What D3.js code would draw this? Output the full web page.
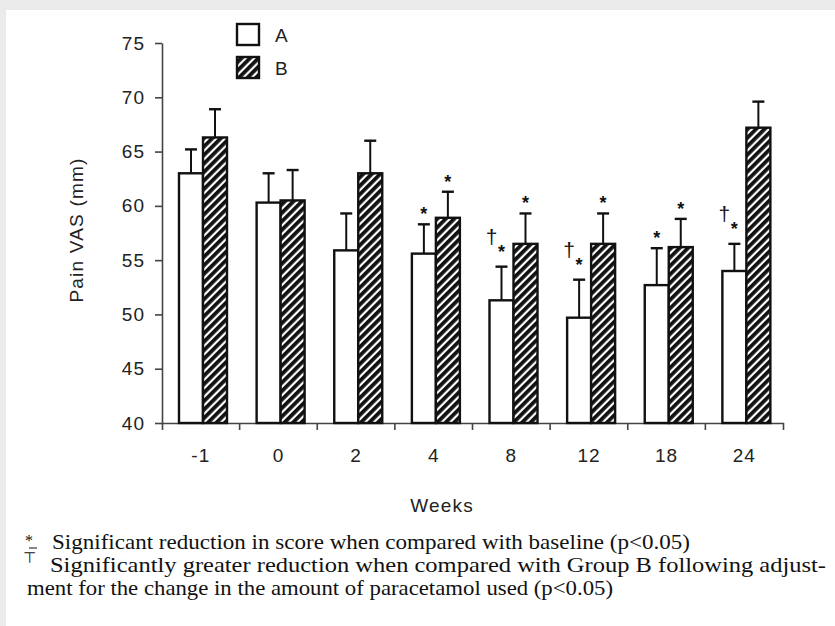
<!DOCTYPE html>
<html>
<head>
<meta charset="utf-8">
<script src="https://cdn.jsdelivr.net/npm/d3@7"></script>
<style>
  body { margin: 0; background: #fff; }
  svg { display: block; }
</style>
</head>
<body>
<script>
// chart values
var weeks = ["-1", "0", "2", "4", "8", "12", "18", "24"];
var groupA = [63.0, 60.3, 55.9, 55.6, 51.3, 49.7, 52.7, 54.0];
var errA = [2.2, 2.7, 3.4, 2.7, 3.1, 3.5, 3.4, 2.5];
var groupB = [66.3, 60.5, 63.0, 58.9, 56.5, 56.5, 56.2, 67.2];
var errB = [2.6, 2.8, 3.0, 2.4, 2.8, 2.8, 2.6, 2.4];
var marksA = ["", "", "", "*", "†*", "†*", "*", "†*"];
var marksB = ["", "", "", "*", "*", "*", "*", ""];
var yTicks = [40, 45, 50, 55, 60, 65, 70, 75];
var notes = [
  "Significant reduction in score when compared with baseline (p<0.05)",
  "Significantly greater reduction when compared with Group B following adjust-",
  "ment for the change in the amount of paracetamol used (p<0.05)"
];

var width = 835,
    height = 626;

var sans = "'Liberation Sans', Arial, sans-serif";
var serif = "'Liberation Serif', 'Times New Roman', serif";

var svg = d3.select("body")
            .append("svg")
            .attr("width", width)
            .attr("height", height);

svg.append("rect").attr("width", width).attr("height", height).attr("fill", "#fff");
svg.append("rect").attr("width", width).attr("height", 10).attr("fill", "#ebebeb");
svg.append("rect").attr("width", 6).attr("height", height).attr("fill", "#ebebeb");

var defs = svg.append("defs");
var pat = defs.append("pattern")
    .attr("id", "hatch")
    .attr("patternUnits", "userSpaceOnUse")
    .attr("width", 6)
    .attr("height", 6)
    .attr("patternTransform", "rotate(45)");
pat.append("rect").attr("width", 6).attr("height", 6).attr("fill", "#fff");
pat.append("rect").attr("width", 3.8).attr("height", 6).attr("fill", "#111");

var xScale = d3.scaleBand()
               .domain(weeks)
               .range([162, 783]);

var inner = d3.scaleBand()
              .domain(["A", "B"])
              .range([17, 65]);

var yScale = d3.scaleLinear()
               .domain([40, 75])
               .range([423, 43]);

// y axis
var yAxis = d3.axisLeft(yScale)
              .tickValues(yTicks)
              .tickSize(7)
              .tickSizeOuter(0)
              .tickPadding(10);

var gy = svg.append("g")
    .attr("transform", "translate(162,0)")
    .call(yAxis);
gy.selectAll("path, line").attr("stroke", "#444").attr("stroke-width", 1.6);
gy.selectAll("text")
  .attr("font-family", sans)
  .attr("font-size", 19)
  .attr("letter-spacing", 1)
  .attr("fill", "#222");

// x axis
var xAxis = d3.axisBottom(xScale)
              .tickSize(0)
              .tickSizeOuter(7)
              .tickPadding(26);

var gx = svg.append("g")
    .attr("transform", "translate(0,423)")
    .call(xAxis);
gx.select(".domain").attr("stroke", "#444").attr("stroke-width", 1.6);
gx.selectAll("text")
  .attr("font-family", sans)
  .attr("font-size", 19)
  .attr("letter-spacing", 1)
  .attr("fill", "#222");

// boundary ticks between week groups
svg.append("g")
   .selectAll("line")
   .data(weeks.slice(1))
   .enter()
   .append("line")
   .attr("x1", function (d) { return xScale(d); })
   .attr("x2", function (d) { return xScale(d); })
   .attr("y1", 423)
   .attr("y2", 430)
   .attr("stroke", "#444")
   .attr("stroke-width", 1.6);

// bars
var rows = weeks.map(function (w, i) {
    return [
        { week: w, key: "A", value: groupA[i], err: errA[i], mark: marksA[i] },
        { week: w, key: "B", value: groupB[i], err: errB[i], mark: marksB[i] }
    ];
});
var flat = d3.merge(rows);

function cx(d) {
    return xScale(d.week) + inner(d.key) + inner.bandwidth() / 2;
}

svg.append("g")
   .selectAll("rect")
   .data(flat)
   .enter()
   .append("rect")
   .attr("x", function (d) { return xScale(d.week) + inner(d.key); })
   .attr("y", function (d) { return yScale(d.value); })
   .attr("width", inner.bandwidth())
   .attr("height", function (d) { return yScale(40) - yScale(d.value); })
   .attr("fill", function (d) { return d.key == "A" ? "#fff" : "url(#hatch)"; })
   .attr("stroke", "#111")
   .attr("stroke-width", 2.4);

// error bars
var eb = svg.append("g")
   .selectAll("g")
   .data(flat)
   .enter()
   .append("g");

eb.append("line")
  .attr("x1", cx)
  .attr("x2", cx)
  .attr("y1", function (d) { return yScale(d.value); })
  .attr("y2", function (d) { return yScale(d.value + d.err); })
  .attr("stroke", "#111")
  .attr("stroke-width", 2);

eb.append("line")
  .attr("x1", function (d) { return cx(d) - 6; })
  .attr("x2", function (d) { return cx(d) + 6; })
  .attr("y1", function (d) { return yScale(d.value + d.err); })
  .attr("y2", function (d) { return yScale(d.value + d.err); })
  .attr("stroke", "#111")
  .attr("stroke-width", 2.4);

// significance marks
var marked = flat.filter(function (d) { return d.mark != ""; });

svg.append("g")
   .selectAll("text")
   .data(marked)
   .enter()
   .append("text")
   .attr("x", cx)
   .attr("y", function (d) {
       return yScale(d.value + d.err) - (d.mark.length > 1 ? 9 : 4);
   })
   .attr("text-anchor", "middle")
   .attr("font-family", sans)
   .attr("font-size", 18)
   .attr("font-weight", "bold")
   .attr("fill", "#111")
   .text("*");

svg.append("g")
   .selectAll("text")
   .data(marked.filter(function (d) { return d.mark.indexOf("†") == 0; }))
   .enter()
   .append("text")
   .attr("x", function (d) { return cx(d) - 10; })
   .attr("y", function (d) { return yScale(d.value + d.err) - 23; })
   .attr("text-anchor", "middle")
   .attr("font-family", sans)
   .attr("font-size", 21)
   .attr("fill", "#111")
   .text("†");

// legend
var legend = svg.append("g");
var legendKeys = ["A", "B"];
legend.selectAll("rect")
      .data(legendKeys)
      .enter()
      .append("rect")
      .attr("x", 237)
      .attr("y", function (d, i) { return 24 + i * 33; })
      .attr("width", 22)
      .attr("height", 21)
      .attr("fill", function (d) { return d == "A" ? "#fff" : "url(#hatch)"; })
      .attr("stroke", "#111")
      .attr("stroke-width", 2.4);
legend.selectAll("text")
      .data(legendKeys)
      .enter()
      .append("text")
      .attr("x", 275)
      .attr("y", function (d, i) { return 42 + i * 33; })
      .attr("font-family", sans)
      .attr("font-size", 19)
      .attr("fill", "#222")
      .text(function (d) { return d; });

// axis titles
svg.append("text")
   .attr("transform", "translate(83,230) rotate(-90)")
   .attr("text-anchor", "middle")
   .attr("font-family", sans)
   .attr("font-size", 19)
   .attr("letter-spacing", 1.2)
   .attr("fill", "#222")
   .text("Pain VAS (mm)");

svg.append("text")
   .attr("x", 442)
   .attr("y", 512)
   .attr("text-anchor", "middle")
   .attr("font-family", sans)
   .attr("font-size", 19)
   .attr("letter-spacing", 1.2)
   .attr("fill", "#222")
   .text("Weeks");

// footnotes
var noteX = [52, 50, 27];
var noteW = [638, 776, 586];
svg.append("g")
   .selectAll("text")
   .data(notes)
   .enter()
   .append("text")
   .attr("x", function (d, i) { return noteX[i]; })
   .attr("y", function (d, i) { return 549 + i * 23; })
   .attr("textLength", function (d, i) { return noteW[i]; })
   .attr("lengthAdjust", "spacingAndGlyphs")
   .attr("font-family", serif)
   .attr("font-size", 21)
   .attr("fill", "#111")
   .text(function (d) { return d; });

svg.append("text")
   .attr("x", 25)
   .attr("y", 546)
   .attr("font-family", serif)
   .attr("font-size", 16)
   .attr("fill", "#111")
   .text("*");
svg.append("line")
   .attr("x1", 29)
   .attr("x2", 37)
   .attr("y1", 548)
   .attr("y2", 548)
   .attr("stroke", "#111")
   .attr("stroke-width", 1);
svg.append("text")
   .attr("x", 23)
   .attr("y", 563)
   .attr("font-family", "'DejaVu Sans', sans-serif")
   .attr("font-size", 15)
   .attr("fill", "#111")
   .text("⊤");
</script>
</body>
</html>
